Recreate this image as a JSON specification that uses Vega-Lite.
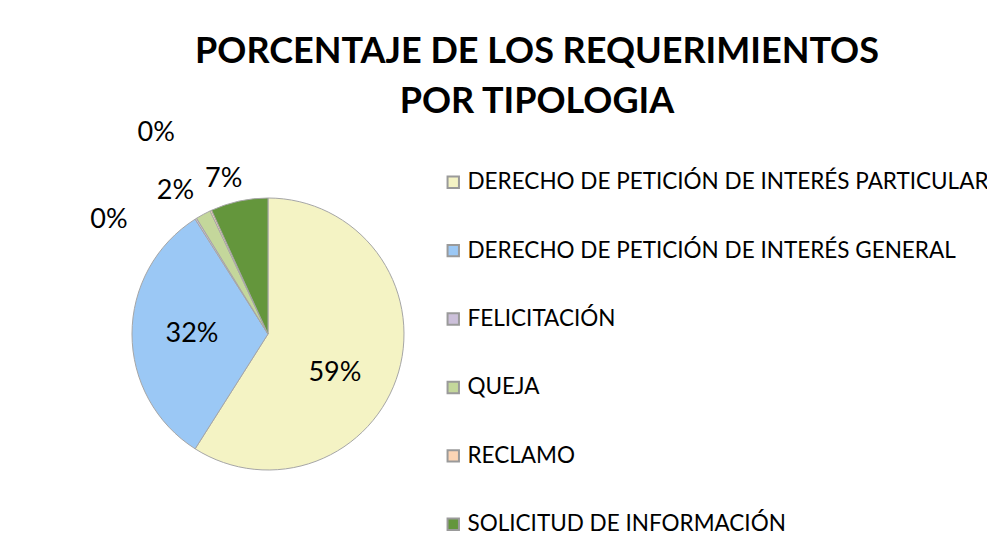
{
  "$schema": "https://vega.github.io/schema/vega-lite/v6.json",
  "autosize": {"type": "none"},
  "width": 272,
  "height": 272,
  "padding": {"left": 132, "top": 198, "right": 583, "bottom": 85},
  "background": "white",
  "title": {
    "text": ["PORCENTAJE DE LOS REQUERIMIENTOS", "POR TIPOLOGIA"],
    "anchor": "middle",
    "dx": 269,
    "dy": 97,
    "offset": 80,
    "font": "Lato",
    "fontSize": 36,
    "fontWeight": "bold",
    "color": "#000000",
    "lineHeight": 50
  },
  "data": {
    "values": [
      {"tipologia": "DERECHO DE PETICIÓN DE INTERÉS PARTICULAR", "porcentaje": 0.59, "orden": 1},
      {"tipologia": "DERECHO DE PETICIÓN DE INTERÉS GENERAL", "porcentaje": 0.32, "orden": 2},
      {"tipologia": "FELICITACIÓN", "porcentaje": 0.002, "orden": 3},
      {"tipologia": "QUEJA", "porcentaje": 0.018, "orden": 4},
      {"tipologia": "RECLAMO", "porcentaje": 0.002, "orden": 5},
      {"tipologia": "SOLICITUD DE INFORMACIÓN", "porcentaje": 0.068, "orden": 6}
    ]
  },
  "encoding": {
    "theta": {"field": "porcentaje", "type": "quantitative", "stack": true},
    "order": {"field": "orden", "type": "quantitative"}
  },
  "layer": [
    {
      "mark": {"type": "arc", "stroke": "#a6a6a6", "strokeWidth": 1},
      "encoding": {
        "color": {
          "field": "tipologia",
          "type": "nominal",
          "scale": {
            "domain": [
              "DERECHO DE PETICIÓN DE INTERÉS PARTICULAR",
              "DERECHO DE PETICIÓN DE INTERÉS GENERAL",
              "FELICITACIÓN",
              "QUEJA",
              "RECLAMO",
              "SOLICITUD DE INFORMACIÓN"
            ],
            "range": ["#F4F3C4", "#9BC8F5", "#CCC0DA", "#C4D79B", "#FCD5B5", "#64963C"]
          },
          "legend": {
            "title": null,
            "orient": "none",
            "legendX": 310,
            "legendY": -27,
            "padding": 0,
            "symbolType": "square",
            "symbolSize": 130,
            "symbolStrokeColor": "#9a9a9a",
            "symbolStrokeWidth": 2,
            "labelFont": "Lato",
            "labelFontSize": 22.5,
            "labelColor": "#000000",
            "labelOffset": 3,
            "labelLimit": 700,
            "rowPadding": 45.4
          }
        }
      }
    },
    {
      "mark": {"type": "text", "radius": 78, "dx": -8, "dy": 17, "font": "Lato", "fontSize": 27, "color": "#000000"},
      "encoding": {
        "text": {"condition": {"test": "datum.orden === 1", "field": "porcentaje", "format": ".0%"}, "value": ""}
      }
    },
    {
      "mark": {"type": "text", "radius": 76, "font": "Lato", "fontSize": 27, "color": "#000000"},
      "encoding": {
        "text": {"condition": {"test": "datum.orden === 2", "field": "porcentaje", "format": ".0%"}, "value": ""}
      }
    },
    {
      "mark": {"type": "text", "radius": 200, "dx": -53, "dy": 56, "font": "Lato", "fontSize": 27, "color": "#000000"},
      "encoding": {
        "text": {"condition": {"test": "datum.orden === 3", "field": "porcentaje", "format": ".0%"}, "value": ""}
      }
    },
    {
      "mark": {"type": "text", "radius": 165, "dx": -14, "dy": 2, "font": "Lato", "fontSize": 27, "color": "#000000"},
      "encoding": {
        "text": {"condition": {"test": "datum.orden === 4", "field": "porcentaje", "format": ".0%"}, "value": ""}
      }
    },
    {
      "mark": {"type": "text", "radius": 221, "dx": -19, "font": "Lato", "fontSize": 27, "color": "#000000"},
      "encoding": {
        "text": {"condition": {"test": "datum.orden === 5", "field": "porcentaje", "format": ".0%"}, "value": ""}
      }
    },
    {
      "mark": {"type": "text", "radius": 157, "dx": -11, "dy": -2, "font": "Lato", "fontSize": 27, "color": "#000000"},
      "encoding": {
        "text": {"condition": {"test": "datum.orden === 6", "field": "porcentaje", "format": ".0%"}, "value": ""}
      }
    }
  ],
  "config": {"view": {"stroke": null}}
}
